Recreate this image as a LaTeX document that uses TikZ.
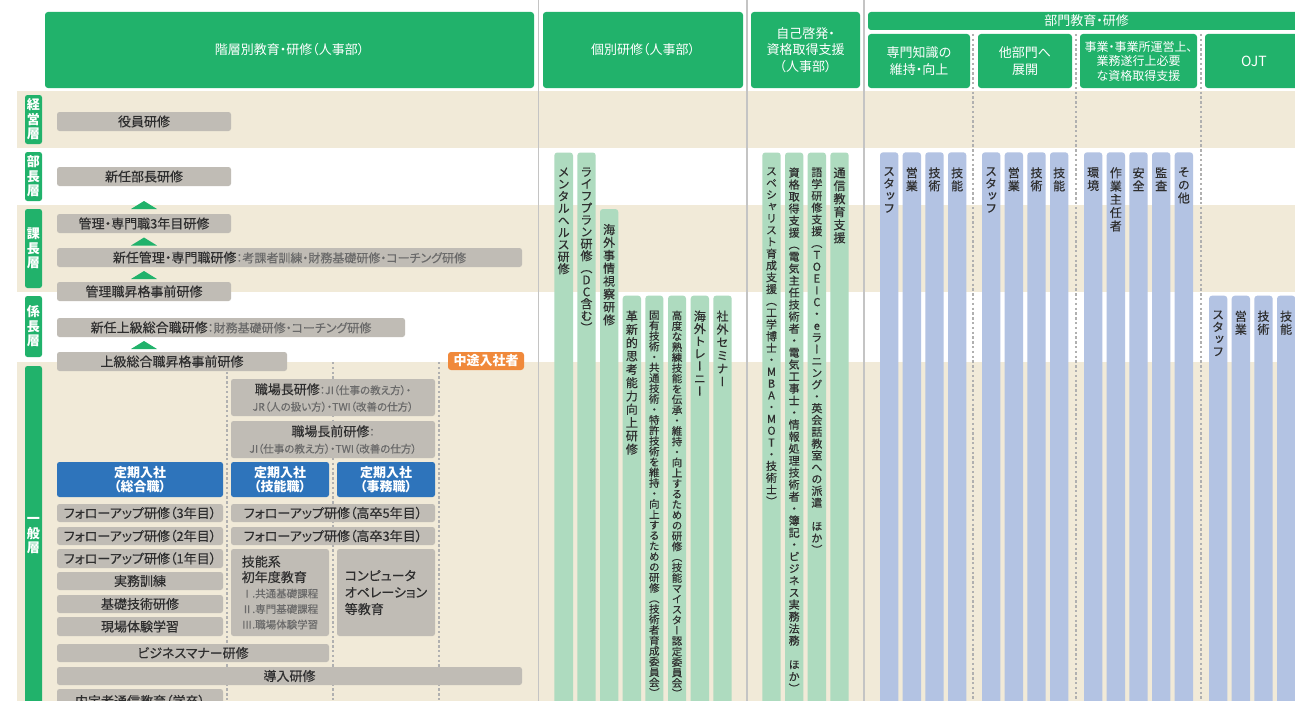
\documentclass[tikz,border=0pt]{standalone}
\usepackage{fontspec}
\newfontfamily\jp[RawFeature=+palt, UprightFeatures={FakeBold=0.3}]{Noto Sans CJK JP}
\newfontfamily\jpv[RawFeature=+vert, UprightFeatures={FakeBold=0.3}]{Noto Sans CJK JP}
\newfontfamily\jph[RawFeature=+palt]{Noto Sans CJK JP}
\definecolor{hgreen}{HTML}{21B26B}
\definecolor{beige}{HTML}{F1EAD8}
\definecolor{boxgray}{HTML}{C0BCB5}
\definecolor{txt}{HTML}{2E2E2E}
\definecolor{subtxt}{HTML}{6A6A6A}
\definecolor{bblue}{HTML}{2E74BB}
\definecolor{orng}{HTML}{F0893B}
\definecolor{sepgray}{HTML}{C4C4C4}
\definecolor{dotgray}{HTML}{B0B0B0}
\definecolor{bargreen}{HTML}{AEDBBF}
\definecolor{barblue}{HTML}{B3C3E3}

\ExplSyntaxOn
\NewDocumentCommand \vtext { m m }
 {
  \vbox:n
   {
    \skip_set:Nn \baselineskip {#1}
    \skip_set:Nn \lineskip {0pt}
    \dim_set:Nn \lineskiplimit {-\c_max_dim}
    \tl_map_inline:nn {#2} { \hbox_to_wd:nn {1.2em} { \hfil ##1 \hfil } }
   }
 }
\ExplSyntaxOff

\newcommand\vfa{\jpv\fontsize{12}{12}\selectfont}
\newcommand\vfb{\jpv\fontsize{10.5}{10.5}\selectfont}
\newcommand\vfc{\jpv\fontsize{11}{11}\selectfont}
\newcommand\subf{\color{subtxt}\fontsize{12}{16}\selectfont}
\newcommand\subs{\color{subtxt}\fontsize{10.5}{16}\selectfont}

\tikzset{
  hdr/.style={fill=hgreen, rounded corners=3pt, text=white, font=\jph\fontsize{13}{16.5}\selectfont, align=center, inner sep=0pt, outer sep=0pt},
  lvl/.style={fill=hgreen, rounded corners=2.5pt, text=white, font=\jpv\bfseries\fontsize{13}{13}\selectfont, inner sep=0pt, outer sep=0pt},
  gbox/.style={fill=boxgray, rounded corners=2.5pt, text=txt, font=\jp\fontsize{13}{16.5}\selectfont, align=center, inner sep=0pt, outer sep=0pt},
  bbox/.style={fill=bblue, rounded corners=2.5pt, text=white, font=\jp\bfseries\fontsize{13}{14.5}\selectfont, align=center, inner sep=0pt, outer sep=0pt},
  obox/.style={fill=orng, rounded corners=3pt, text=white, font=\jp\bfseries\fontsize{13}{14}\selectfont, inner sep=0pt, outer sep=0pt},
  sepline/.style={draw=sepgray, line width=1.5pt},
  dotl/.style={draw=dotgray, line width=1.2pt, dash pattern=on 2.4pt off 2.4pt},
  gbar/.style={fill=bargreen, rounded corners=3pt},
  bbar/.style={fill=barblue, rounded corners=3pt},
  vtx/.style={anchor=north, inner sep=0pt, outer sep=0pt, text=txt},
  tri/.style={fill=hgreen},
}

% box: style, name, x1, y1, x2, y2, text
\newcommand\bx[7]{\node[#1, minimum width={#5-#3}, minimum height={#6-#4}] (#2) at ({(#3+#5)/2},{(#4+#6)/2}) {#7};}
% bar: style, name, x1, x2, ytop, font, text
\newcommand\mkbar[7]{\fill[#1] (#3,#5) rectangle (#4,715); \node[vtx, font=#6] (#2) at ({(#3+#4)/2},{#5+15}) {#7};}

\begin{document}
\begin{tikzpicture}[x=1pt,y=-1pt]
\useasboundingbox (0,0) rectangle (1295,701);
\fill[white] (0,0) rectangle (1295,701);

% bands
\fill[beige] (17,91) rectangle (1295,148);
\fill[beige] (17,205) rectangle (1295,292);
\fill[beige] (17,362) rectangle (1295,701);

% separators
\draw[sepline] (538.5,0) -- (538.5,701);
\draw[sepline] (747,0) -- (747,701);
\draw[sepline] (864,0) -- (864,701);
\draw[dotl] (973,34) -- (973,701);
\draw[dotl] (1076,34) -- (1076,701);
\draw[dotl] (1201,34) -- (1201,701);
\draw[dotl] (227,362) -- (227,701);
\draw[dotl] (333,362) -- (333,701);
\draw[dotl] (439,362) -- (439,701);

% headers
\bx{hdr}{h1}{45}{12}{534}{88}{階層別教育・研修（人事部）}
\bx{hdr}{h2}{543}{12}{743}{88}{個別研修（人事部）}
\bx{hdr}{h3}{751}{12}{860}{88}{自己啓発・\\資格取得支援\\（人事部）}
\bx{hdr}{h4}{868}{12}{1305}{30}{部門教育・研修}
\bx{hdr}{h5}{868}{34}{970}{88}{専門知識の\\維持・向上}
\bx{hdr}{h6}{978}{34}{1072}{88}{他部門へ\\展開}
\bx{hdr, font=\jph\fontsize{12}{14.5}\selectfont}{h7}{1080}{34}{1197}{88}{事業・事業所運営上、\\業務遂行上必要\\な資格取得支援}
\bx{hdr, font=\jph\fontsize{14}{16}\selectfont}{h8}{1205}{34}{1303}{88}{OJT}

% level labels
\bx{lvl}{L1}{25}{95}{42}{144}{\vtext{14.5pt}{経営層}}
\bx{lvl}{L2}{25}{152}{42}{201}{\vtext{14.5pt}{部長層}}
\bx{lvl}{L3}{25}{209}{42}{288}{\vtext{14.5pt}{課長層}}
\bx{lvl}{L4}{25}{296}{42}{357}{\vtext{14.5pt}{係長層}}
\bx{lvl}{L5}{25}{366}{42}{706}{\vtext{14.5pt}{一般層}}

% triangles
\fill[tri] (131,209) -- (144,201) -- (157,209) -- cycle;
\fill[tri] (131,245.5) -- (144,237.5) -- (157,245.5) -- cycle;
\fill[tri] (131,279) -- (144,271) -- (157,279) -- cycle;
\fill[tri] (131,349) -- (144,341) -- (157,349) -- cycle;

% left section boxes
\bx{gbox}{yaku}{57}{112}{231}{131}{役員研修}
\bx{gbox}{bucho}{57}{167}{231}{186}{新任部長研修}
\bx{gbox}{kanri3}{57}{214}{231}{233}{管理・専門職3年目研修}
\bx{gbox}{shinkan}{57}{248}{522}{267}{新任管理・専門職研修{\subf ：考課者訓練・財務基礎研修・コーチング研修}}
\bx{gbox}{kanjizen}{57}{282}{231}{301}{管理職昇格事前研修}
\bx{gbox}{joukyu}{57}{318}{405}{337}{新任上級総合職研修{\subf ：財務基礎研修・コーチング研修}}
\bx{gbox}{joujizen}{57}{352}{287}{371}{上級総合職昇格事前研修}
\bx{obox}{chuto}{448}{352}{524}{370}{中途入社者}
\bx{gbox}{shoku}{231}{379}{435}{416}{職場長研修{\subs ：JI（仕事の教え方）・}\\{\subs JR（人の扱い方）・TWI（改善の仕方）}}
\bx{gbox}{shokumae}{231}{421}{435}{458}{職場長前研修{\subs ：}\\{\subs JI（仕事の教え方）・TWI（改善の仕方）}}
\bx{bbox}{teiki1}{57}{462}{223}{497}{定期入社\\（総合職）}
\bx{bbox}{teiki2}{231}{462}{329}{497}{定期入社\\（技能職）}
\bx{bbox}{teiki3}{337}{462}{435}{497}{定期入社\\（事務職）}
\bx{gbox}{fu3}{57}{504}{223}{522}{フォローアップ研修（3年目）}
\bx{gbox}{fu5k}{231}{504}{435}{522}{フォローアップ研修（高卒5年目）}
\bx{gbox}{fu2}{57}{527}{223}{545}{フォローアップ研修（2年目）}
\bx{gbox}{fu3k}{231}{527}{435}{545}{フォローアップ研修（高卒3年目）}
\bx{gbox}{fu1}{57}{549}{223}{568}{フォローアップ研修（1年目）}
\bx{gbox, align=left, font=\jp\fontsize{13}{15.5}\selectfont}{ginou}{231}{549}{329}{636}{技能系\\初年度教育\\{\subs Ⅰ.共通基礎課程}\\{\subs Ⅱ.専門基礎課程}\\{\subs Ⅲ.職場体験学習}}
\bx{gbox, align=left, font=\jp\fontsize{13}{16.7}\selectfont}{comp}{337}{549}{435}{636}{コンピュータ\\オペレーション\\等教育}
\bx{gbox}{jitsumu}{57}{572}{223}{590}{実務訓練}
\bx{gbox}{kiso}{57}{595}{223}{613}{基礎技術研修}
\bx{gbox}{genba}{57}{617}{223}{636}{現場体験学習}
\bx{gbox}{biz}{57}{644}{329}{662}{ビジネスマナー研修}
\bx{gbox}{dounyu}{57}{667}{522}{685}{導入研修}
\bx{gbox}{naitei}{57}{689}{223}{713}{内定者通信教育（学卒）}

% individual training bars
\mkbar{gbar}{g1}{554.3}{573}{152.5}{\vfa}{\vtext{12.1pt}{メンタルヘルス研修}}
\mkbar{gbar}{g2}{577.3}{595.7}{152.5}{\vfa}{\vtext{12pt}{ライフプラン研修（DC含む）}}
\mkbar{gbar}{g3}{600}{618.3}{209}{\vfa}{\vtext{12.9pt}{海外事情視察研修}}
\mkbar{gbar}{g4}{622.7}{641}{295.6}{\vfa}{\vtext{13.3pt}{革新的思考能力向上研修}}
\mkbar{gbar}{g5}{645.3}{663.3}{295.6}{\vfb}{\vtext{10.5pt}{固有技術・共通技術・特許技術を維持・向上するための研修（技術者育成委員会）}}
\mkbar{gbar}{g6}{668}{686}{295.6}{\vfb}{\vtext{10.5pt}{高度な熟練技能を伝承・維持・向上するための研修（技能マイスター認定委員会）}}
\mkbar{gbar}{g7}{690.7}{709}{295.6}{\vfa}{\vtext{12.5pt}{海外トレーニー}}
\mkbar{gbar}{g8}{713.3}{731.7}{295.6}{\vfa}{\vtext{13.1pt}{社外セミナー}}

% self development bars
\mkbar{gbar}{s1}{762.3}{780.7}{152.5}{\vfc}{\vtext{11.8pt}{スペシャリスト育成支援（工学博士・MBA・MOT・技術士）}}
\mkbar{gbar}{s2}{785}{803.3}{152.5}{\vfc}{\vtext{12pt}{資格取得支援（電気主任技術者・電気工事士・情報処理技術者・簿記・ビジネス実務法務{}ほか）}}
\mkbar{gbar}{s3}{807.7}{826}{152.5}{\vfc}{\vtext{11.8pt}{語学研修支援（TOEIC・eラーニング・英会話教室への派遣{}ほか）}}
\mkbar{gbar}{s4}{830.3}{848.7}{152.5}{\vfa}{\vtext{13pt}{通信教育支援}}

% department bars
\mkbar{bbar}{d1}{880}{898.3}{152.3}{\vfa}{\vtext{12.3pt}{スタッフ}}
\mkbar{bbar}{d2}{902.7}{921}{152.3}{\vfa}{\vtext{13pt}{営業}}
\mkbar{bbar}{d3}{925.3}{943.7}{152.3}{\vfa}{\vtext{13pt}{技術}}
\mkbar{bbar}{d4}{948}{966.3}{152.3}{\vfa}{\vtext{13pt}{技能}}
\mkbar{bbar}{e1}{982}{1000.3}{152.3}{\vfa}{\vtext{12.3pt}{スタッフ}}
\mkbar{bbar}{e2}{1004.7}{1023}{152.3}{\vfa}{\vtext{13pt}{営業}}
\mkbar{bbar}{e3}{1027.3}{1045.7}{152.3}{\vfa}{\vtext{13pt}{技術}}
\mkbar{bbar}{e4}{1050}{1068.3}{152.3}{\vfa}{\vtext{13pt}{技能}}
\mkbar{bbar}{f1}{1084}{1102.3}{152.3}{\vfa}{\vtext{13pt}{環境}}
\mkbar{bbar}{f2}{1106.7}{1125}{152.3}{\vfa}{\vtext{13.3pt}{作業主任者}}
\mkbar{bbar}{f3}{1129.3}{1147.7}{152.3}{\vfa}{\vtext{13pt}{安全}}
\mkbar{bbar}{f4}{1152}{1170.3}{152.3}{\vfa}{\vtext{13pt}{監査}}
\mkbar{bbar}{f5}{1174.7}{1193}{152.3}{\vfa}{\vtext{13pt}{その他}}
\mkbar{bbar}{o1}{1209}{1227.3}{295.7}{\vfa}{\vtext{12.3pt}{スタッフ}}
\mkbar{bbar}{o2}{1231.7}{1250}{295.7}{\vfa}{\vtext{13pt}{営業}}
\mkbar{bbar}{o3}{1254.3}{1272.7}{295.7}{\vfa}{\vtext{13pt}{技術}}
\mkbar{bbar}{o4}{1277}{1295.3}{295.7}{\vfa}{\vtext{13pt}{技能}}
\end{tikzpicture}
\end{document}
